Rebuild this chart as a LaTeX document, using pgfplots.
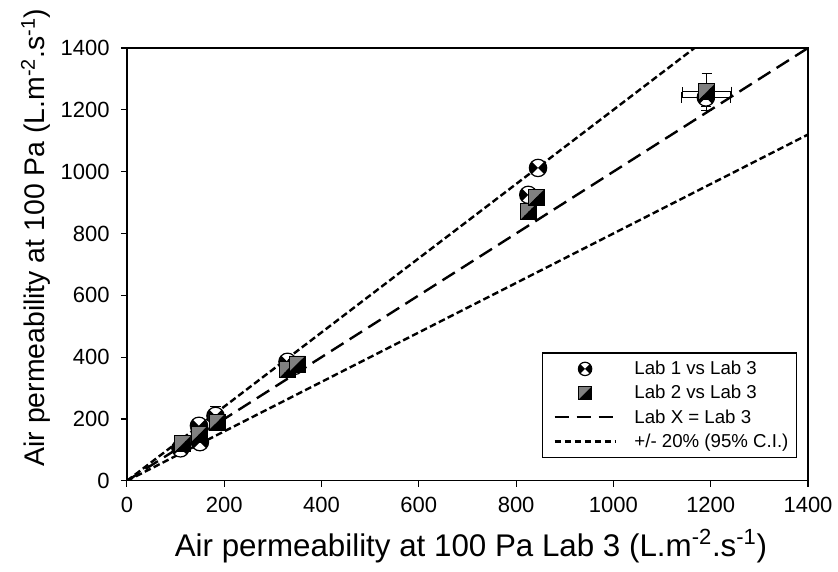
\documentclass[border=0pt]{standalone}
\usepackage{fontspec}
\setmainfont{Liberation Sans}
\usepackage{pgfplots}
\pgfplotsset{compat=1.18}
\definecolor{markgray}{RGB}{128,128,128}

\pgfdeclareplotmark{xcirc}{%
  \pgfpathcircle{\pgfpointorigin}{\pgfplotmarksize}%
  \pgfsetfillcolor{white}\pgfusepathqfill
  \pgfpathmoveto{\pgfpointorigin}%
  \pgfpathlineto{\pgfpointpolar{135}{\pgfplotmarksize}}%
  \pgfpatharc{135}{225}{\pgfplotmarksize}%
  \pgfpathclose
  \pgfpathmoveto{\pgfpointorigin}%
  \pgfpathlineto{\pgfpointpolar{-45}{\pgfplotmarksize}}%
  \pgfpatharc{-45}{45}{\pgfplotmarksize}%
  \pgfpathclose
  \pgfsetfillcolor{black}\pgfusepathqfill
  \pgfpathcircle{\pgfpointorigin}{\pgfplotmarksize}%
  \pgfusepathqstroke
}
\pgfdeclareplotmark{halfsq}{%
  \pgfpathmoveto{\pgfqpoint{-\pgfplotmarksize}{-\pgfplotmarksize}}%
  \pgfpathlineto{\pgfqpoint{-\pgfplotmarksize}{\pgfplotmarksize}}%
  \pgfpathlineto{\pgfqpoint{\pgfplotmarksize}{\pgfplotmarksize}}%
  \pgfpathclose
  \pgfsetfillcolor{markgray}\pgfusepathqfill
  \pgfpathmoveto{\pgfqpoint{-\pgfplotmarksize}{-\pgfplotmarksize}}%
  \pgfpathlineto{\pgfqpoint{\pgfplotmarksize}{\pgfplotmarksize}}%
  \pgfpathlineto{\pgfqpoint{\pgfplotmarksize}{-\pgfplotmarksize}}%
  \pgfpathclose
  \pgfsetfillcolor{black}\pgfusepathqfill
  \pgfpathmoveto{\pgfqpoint{-\pgfplotmarksize}{-\pgfplotmarksize}}%
  \pgfpathlineto{\pgfqpoint{-\pgfplotmarksize}{\pgfplotmarksize}}%
  \pgfpathlineto{\pgfqpoint{\pgfplotmarksize}{\pgfplotmarksize}}%
  \pgfpathlineto{\pgfqpoint{\pgfplotmarksize}{-\pgfplotmarksize}}%
  \pgfpathclose
  \pgfusepathqstroke
}

\pgfplotsset{
  markleg/.style={legend image code/.code={\path (-0.15cm,0cm) (2.0cm,0cm); \draw[##1, only marks, mark size=5pt] plot coordinates {(0.8cm,0cm)};}},
  lineleg/.style={legend image code/.code={\path (-0.15cm,0cm) (2.0cm,0cm); \draw[##1] (0cm,0cm) -- (1.6cm,0cm);}},
  ebars/.style={error bars/.cd, x dir=both, x explicit, y dir=both, y explicit,
    error bar style={black, line width=0.6pt},
    error mark options={rotate=90, mark size=4pt, line width=0.6pt, black}},
}

\pgfplotstableread{
x y ex ey
110 105 0 10
150 125 0 10
148 178 0 8
182 210 0 30
330 385 0 15
345 372 0 8
825 925 0 10
845 1012 0 25
1190 1240 50 30
}\labone
\pgfplotstableread{
x y ex ey
115 120 0 5
148 150 0 5
185 190 0 10
330 360 0 10
350 378 0 10
825 870 0 10
842 918 0 10
1192 1258 50 60
}\labtwo

\begin{document}
\begin{tikzpicture}
\begin{axis}[
  scale only axis,
  width=511pt, height=324.75pt,
  xmin=0, xmax=1400, ymin=0, ymax=1400,
  xtick={0,200,...,1400}, ytick={0,200,...,1400},
  xtick pos=lower, ytick pos=left,
  tick align=outside, major tick length=4.5pt,
  axis line style={line width=1pt},
  tick style={line width=0.8pt, black},
  /pgf/number format/assume math mode=true,
  /pgf/number format/1000 sep={},
  tick label style={font=\fontsize{16.5}{19}\selectfont},
  xticklabel style={yshift=-4pt},
  yticklabel style={xshift=-5pt},
  xlabel={Air permeability at 100 Pa Lab 3 (L.m\textsuperscript{-2}.s\textsuperscript{-1})},
  ylabel={Air permeability at 100 Pa (L.m\textsuperscript{-2}.s\textsuperscript{-1})},
  xlabel style={font=\fontsize{23.5}{27}\selectfont, at={(rel axis cs:0.505,0)}, anchor=base, yshift=-57pt},
  ylabel style={font=\fontsize{21.3}{25}\selectfont, at={(rel axis cs:0,0.562)}, anchor=base, yshift=61.5pt},
  legend style={at={(rel axis cs:0.984,0.053)}, anchor=south east,
    draw=black, line width=1pt, font=\fontsize{14}{16}\selectfont,
    row sep=2.5pt, inner xsep=4pt, inner ysep=4pt, cells={anchor=west}},
  legend cell align=left,
]
\addplot[only marks, mark=xcirc, mark size=6.5pt, mark options={line width=0.9pt, draw=black},
  markleg, ebars]
  table[x=x, y=y, x error=ex, y error=ey] {\labone};
\addlegendentry{Lab 1 vs Lab 3}
\addplot[only marks, mark=halfsq, mark size=6pt, mark options={line width=0.6pt, draw=black},
  markleg, ebars]
  table[x=x, y=y, x error=ex, y error=ey] {\labtwo};
\addlegendentry{Lab 2 vs Lab 3}
\addplot[black, line width=1.8pt, dash pattern=on 11pt off 5.5pt, lineleg]
  coordinates {(0,0) (1400,1400)};
\addlegendentry{Lab X = Lab 3}
\addplot[black, line width=1.8pt, dash pattern=on 5pt off 2.5pt, lineleg]
  coordinates {(0,0) (1166.67,1400)};
\addlegendentry{+/- 20\% (95\% C.I.)}
\addplot[black, line width=1.8pt, dash pattern=on 5pt off 2.5pt, forget plot]
  coordinates {(0,0) (1400,1120)};
\end{axis}
\pgfresetboundingbox
\path ([shift={(-95.25pt,-68.25pt)}]current axis.south west) rectangle ([shift={(22.5pt,36pt)}]current axis.north east);
\end{tikzpicture}
\end{document}
